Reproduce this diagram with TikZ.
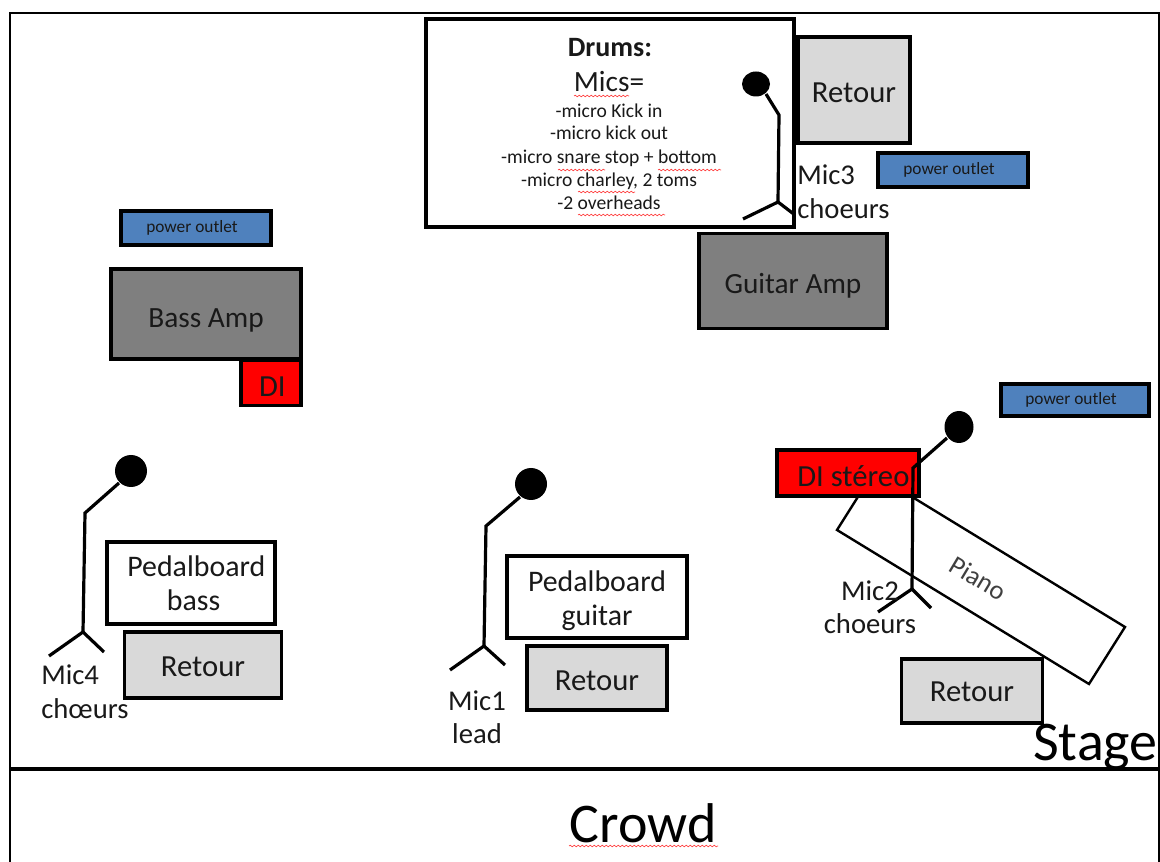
\documentclass[tikz,border=0pt]{standalone}
\usepackage{fontspec}
\setmainfont{Carlito}
\usetikzlibrary{decorations.pathmorphing}
\definecolor{ampgrey}{HTML}{7F7F7F}
\definecolor{retgrey}{HTML}{D9D9D9}
\definecolor{outletblue}{HTML}{4F81BD}
\newcommand{\lowr}[2]{\raisebox{0pt}[\dimexpr\height+#1+#1\relax]{#2}}
\tikzset{
  x=0.75pt,y=-0.75pt,
  box/.style={draw=black,line width=2.4pt,inner sep=0pt,align=center,text=black!90},
  amp/.style={box,fill=ampgrey,font=\fontsize{22}{26}\selectfont},
  retour/.style={box,fill=retgrey,font=\fontsize{23}{27}\selectfont},
  outlet/.style={box,fill=outletblue,font=\fontsize{13}{15}\selectfont},
  direct/.style={box,fill=red,font=\fontsize{23}{27}\selectfont},
  pedal/.style={box,fill=white,font=\fontsize{22.4}{25.5}\selectfont},
  stick/.style={line width=2.4pt,line cap=butt,line join=miter},
  label/.style={inner sep=0pt,text=black!90,font=\fontsize{21.5}{25}\selectfont},
  drumline/.style={inner sep=0pt,font=\fontsize{14.7}{17}\selectfont,text=black!90},
  squiggle/.style={red!75,line width=0.5pt,decorate,decoration={snake,amplitude=0.6pt,segment length=3pt}},
  rectpx/.style n args={4}{minimum width=#3*0.75pt,minimum height=#4*0.75pt,at={(#1,#2)}},
}
\begin{document}
\begin{tikzpicture}
\useasboundingbox (0,0) rectangle (1160,862);
\fill[white] (0,0) rectangle (1160,862);
% frame
\draw[line width=1.4pt] (10,862) -- (10,13) -- (1159,13) -- (1159,862);
\draw[line width=2.6pt] (10,769) -- (1160,769);
% drums
\node[box,fill=white,rectpx={610}{123}{368}{208}] (drums) {};
\node[inner sep=0pt,font=\bfseries\fontsize{21}{25}\selectfont,text=black!90] (drumsT) at (610,48) {Drums:};
\node[inner sep=0pt,font=\fontsize{22}{26}\selectfont,text=black!90] (micsT) at (609,82) {Mics=};
\node[drumline] (l1) at (609,111) {-micro Kick in};
\node[drumline] (l2) at (609,133) {-micro kick out};
\node[drumline] (l3) at (609,158) {-micro snare stop + bottom};
\node[drumline] (l4) at (609,181) {-micro charley, 2 toms};
\node[drumline] (l5) at (609,203) {-2 overheads};
\draw[squiggle] (574,96) -- (629,96);
\draw[squiggle] (558,170) -- (605,170);
\draw[squiggle] (658,170) -- (721,170);
\draw[squiggle] (578,192) -- (635,192);
\draw[squiggle] (578,215) -- (665,215);
% retour and outlets
\node[retour,rectpx={854}{90}{112}{106}] (ret1) {\lowr{2.25pt}{Retour}};
\node[outlet,rectpx={953}{170}{150}{34}] (out1) {\hspace*{-6pt}power outlet};
\node[outlet,rectpx={196}{228}{150}{34}] (out2) {\hspace*{-6pt}power outlet};
\node[outlet,rectpx={1075}{400}{148}{32}] (out3) {\hspace*{-6pt}power outlet};
\node[amp,rectpx={793}{281}{188}{95}] (gamp) {\lowr{3.7pt}{Guitar Amp}};
\node[amp,rectpx={206}{314}{190}{90}] (bamp) {\lowr{4.5pt}{Bass Amp}};
\node[direct,rectpx={271}{383}{60}{45}] (di) {\lowr{3pt}{\hspace*{2pt}DI}};
% mic 3
\fill (756,84) ellipse (14 and 12.5);
\draw[stick] (766,94) -- (779,115) -- (778,202);
\draw[stick] (743,219) -- (778,202) -- (795,215);
% piano
\draw[line width=1.8pt,fill=white] (873,473) -- (1125,627) -- (1089,684) -- (837,530) -- cycle;
\node[inner sep=0pt,rotate=-31,font=\fontsize{20}{24}\selectfont,text=black!75] (piano) at (978,578) {Piano};
% DI stereo
\node[direct,rectpx={848}{473}{142}{46}] (dis) {\hspace*{8pt}\lowr{2.2pt}{DI stéreo}};
% mic 2
\fill (959,427) ellipse (14.5 and 16);
\draw[stick] (947,438) -- (913,468) -- (912,589);
\draw[stick] (878,612) -- (912,589) -- (931,608);
\node[label,align=center] (m2) at (870,607) {Mic2\\choeurs};
\node[label,align=left,anchor=north west] (m3) at (797,165) {Mic3\\choeurs};
\node[retour,rectpx={972}{691}{141}{64}] (ret4) {\lowr{0.75pt}{Retour}};
% mic 4
\fill (131,471) ellipse (16 and 16);
\draw[stick] (119,483) -- (85,513) -- (83,632);
\draw[stick] (49,656) -- (83,632) -- (104,652);
\node[pedal,rectpx={191}{583}{168}{82}] (pb) {\hspace*{8pt}Pedalboard\\\hspace*{4pt}bass};
\node[retour,rectpx={203}{665}{157}{66}] (ret2) {\lowr{1.5pt}{Retour}};
\node[label,align=left,anchor=north west] (m4) at (41,665) {Mic4\\chœurs};
% mic 1
\fill (531,484) ellipse (16 and 16);
\draw[stick] (520,497) -- (486,526) -- (484,646);
\draw[stick] (450,670) -- (484,646) -- (505,665);
\node[label,align=center] (m1) at (477,717) {Mic1\\lead};
\node[pedal,rectpx={597}{597}{180}{82}] (pg) {\lowr{3pt}{Pedalboard}\\guitar};
\node[retour,rectpx={597}{678}{140}{64}] (ret3) {\lowr{2.25pt}{Retour}};
% titles
\node[inner sep=0pt,anchor=base west,font=\fontsize{42}{46}\selectfont,text=black] (stage) at (1033,760) {Stage};
\node[inner sep=0pt,font=\fontsize{42}{46}\selectfont,text=black] (crowd) at (643,823) {Crowd};
\draw[squiggle] (569,846) -- (718,846);
\end{tikzpicture}
\end{document}
